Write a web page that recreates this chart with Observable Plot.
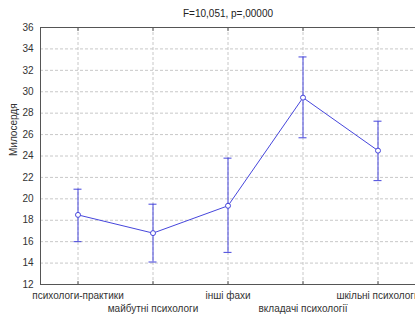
<!DOCTYPE html>
<html>
<head>
<meta charset="utf-8">
<script src="https://cdn.jsdelivr.net/npm/d3@7"></script>
<script src="https://cdn.jsdelivr.net/npm/@observablehq/plot@0.6"></script>
<style>
  html, body { margin: 0; padding: 0; background: #fff; }
  svg { display: block; }
</style>
</head>
<body>
<div id="chart"></div>
<script>
const title = "F=10,051, p=,00000";
const yLabel = "Милосердя";
const categories = ["психологи-практики", "майбутні психологи", "інші фахи", "вкладачі психології", "шкільні психологи"];
const means = [18.5, 16.8, 19.35, 29.45, 24.5];
const upper = [20.9, 19.5, 23.8, 33.25, 27.25];
const lower = [16.0, 14.1, 15.0, 25.7, 21.7];
const yTicks = [12, 14, 16, 18, 20, 22, 24, 26, 28, 30, 32, 34, 36];

const data = categories.map((c, i) => ({cat: c, i, mean: means[i], lo: lower[i], hi: upper[i]}));
const blue = "#4646dc";
const gridStyle = {stroke: "#c8c8c8", strokeOpacity: 1, strokeDasharray: "3,2"};
const capInset = 33.5;

const chart = Plot.plot({
  width: 415,
  height: 315,
  marginLeft: 40,
  marginRight: 0,
  marginTop: 27,
  marginBottom: 31,
  style: {fontFamily: "'Liberation Sans', Arial, sans-serif", fontSize: "10px", color: "#333", background: "#fff"},
  x: {type: "band", domain: categories, padding: 0, axis: null},
  y: {domain: [12, 36], axis: null},
  marks: [
    Plot.gridY(yTicks, gridStyle),
    Plot.gridX(categories, gridStyle),
    Plot.ruleY([12, 36], {stroke: "#555"}),
    Plot.frame({anchor: "left", stroke: "#555"}),
    Plot.axisX(categories, {anchor: "bottom", tickSize: -3, tickFormat: () => "", label: null, stroke: "#555"}),
    Plot.axisX(categories, {anchor: "top", tickSize: -3, tickFormat: () => "", label: null, stroke: "#555"}),
    Plot.axisY(yTicks, {anchor: "left", tickSize: 0, tickPadding: 7, label: null, fill: "#333", fontSize: 10}),
    Plot.text(data.filter(d => d.i % 2 === 0), {x: "cat", text: "cat", frameAnchor: "bottom", lineAnchor: "middle", dy: 11, fill: "#333"}),
    Plot.text(data.filter(d => d.i % 2 === 1), {x: "cat", text: "cat", frameAnchor: "bottom", lineAnchor: "middle", dy: 24, fill: "#333"}),
    Plot.text([title], {text: d => d, frameAnchor: "top", lineAnchor: "middle", dy: -14, fill: "#222"}),
    Plot.text([yLabel], {text: d => d, frameAnchor: "left", rotate: -90, dx: -27, fill: "#333"}),
    Plot.ruleX(data, {x: "cat", y1: "lo", y2: "hi", stroke: blue}),
    Plot.tickY(data, {x: "cat", y: "hi", stroke: blue, insetLeft: capInset, insetRight: capInset}),
    Plot.tickY(data, {x: "cat", y: "lo", stroke: blue, insetLeft: capInset, insetRight: capInset}),
    Plot.line(data, {x: "cat", y: "mean", stroke: blue, strokeWidth: 1}),
    Plot.dot(data, {x: "cat", y: "mean", r: 2.5, fill: "white", stroke: blue, strokeWidth: 1})
  ]
});
document.getElementById("chart").append(chart);
</script>
</body>
</html>
